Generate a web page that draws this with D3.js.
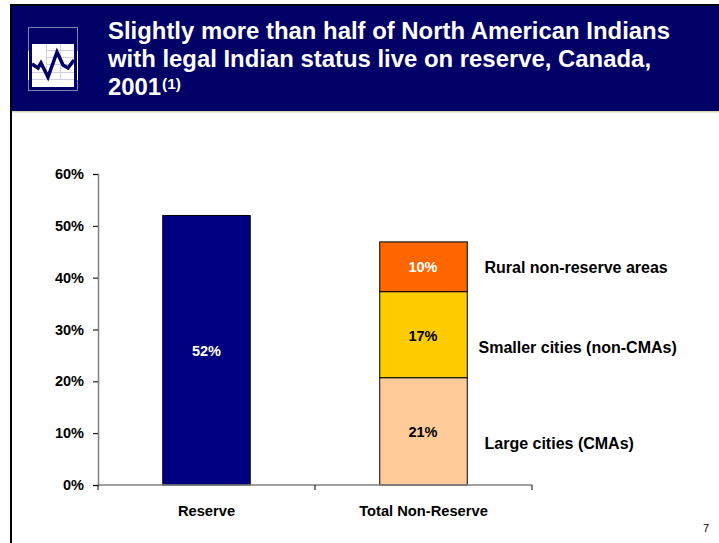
<!DOCTYPE html>
<html><head><meta charset="utf-8">
<script src="https://cdn.jsdelivr.net/npm/d3@7/dist/d3.min.js"></script>
<style>html,body{margin:0;padding:0;background:#fff}svg{display:block}text{font-family:"Liberation Sans",Arial,sans-serif}</style>
</head><body><div id="c"></div>
<script>
const categories = ["Reserve", "Total Non-Reserve"];
const tickValues = [0, 10, 20, 30, 40, 50, 60];
const reserveValues = [52];
const nonReserveValues = [20.7, 16.6, 9.6];
const nonReserveLabels = ["21%", "17%", "10%"];
const nonReserveNames = ["Large cities (CMAs)", "Smaller cities (non-CMAs)", "Rural non-reserve areas"];
const nonReserveColors = ["#ffcc99", "#ffcc00", "#ff6600"];
const titleLines = ["Slightly more than half of North American Indians", "with legal Indian status live on reserve, Canada,", "2001"];

const svg = d3.select("#c").append("svg").attr("width", 719).attr("height", 543);
// frame + header
svg.append("rect").attr("x", 12).attr("y", 6).attr("width", 707).attr("height", 105).attr("fill", "#000066");
svg.append("rect").attr("x", 12).attr("y", 111).attr("width", 707).attr("height", 1.5).attr("fill", "#d8d8b0");
svg.append("rect").attr("x", 10).attr("y", 4).attr("width", 709).attr("height", 2).attr("fill", "#000");
svg.append("rect").attr("x", 10).attr("y", 4).attr("width", 2).attr("height", 539).attr("fill", "#000");

// icon
const icon = svg.append("g");
icon.append("rect").attr("x", 28.5).attr("y", 27.5).attr("width", 49).attr("height", 63).attr("fill", "none").attr("stroke", "#7f7fb2").attr("stroke-width", 1);
icon.append("rect").attr("x", 32).attr("y", 44).attr("width", 42).attr("height", 43).attr("fill", "#fff");
icon.append("rect").attr("x", 28).attr("y", 51).attr("width", 1).attr("height", 29).attr("fill", "#fff");
icon.append("rect").attr("x", 77).attr("y", 51).attr("width", 1).attr("height", 29).attr("fill", "#fff");
const iconGrid = d3.path();
[46, 60].forEach(gx => { iconGrid.moveTo(gx + .5, 44); iconGrid.lineTo(gx + .5, 80); });
[50, 57, 64].forEach(gy => { iconGrid.moveTo(46, gy + .5); iconGrid.lineTo(74, gy + .5); });
[72, 79].forEach(gy => { iconGrid.moveTo(32, gy + .5); iconGrid.lineTo(74, gy + .5); });
icon.append("path").attr("d", iconGrid.toString()).attr("stroke", "#d0d0e4").attr("stroke-width", 1).attr("fill", "none");
icon.append("polyline").attr("points", "32,64 38,68 41,63 48,77 57,52 63,65 68,68 74,60").attr("fill", "none").attr("stroke", "#000066").attr("stroke-width", 3.5);

// title
const title = svg.append("g").attr("fill", "#fff").attr("font-weight", "bold").attr("font-size", 23.9);
titleLines.forEach((t, i) => title.append("text").attr("x", 108).attr("y", 38.5 + i * 28.2).text(t));
title.append("text").attr("x", 162).attr("y", 89).attr("font-size", 15.5).text("(1)");

// scales
const x = d3.scaleBand().domain(categories).range([98, 532]).paddingInner(0).paddingOuter(0);
const y = d3.scaleLinear().domain([0, 60]).range([485, 174]);
const barW = 87.5;

// bars
const chart = svg.append("g");
const cx = c => x(c) + x.bandwidth() / 2;
chart.append("rect").attr("x", cx(categories[0]) - barW / 2).attr("y", y(reserveValues[0])).attr("width", barW)
  .attr("height", y(0) - y(reserveValues[0])).attr("fill", "#000080").attr("stroke", "#000").attr("stroke-width", 1);
chart.append("text").attr("x", cx(categories[0])).attr("y", y(reserveValues[0] / 2) + 6).attr("text-anchor", "middle")
  .attr("font-size", 14.5).attr("font-weight", "bold").attr("fill", "#fff").text("52%");

const cum = d3.cumsum(nonReserveValues);
nonReserveValues.forEach((v, i) => {
  const base = i ? cum[i - 1] : 0;
  chart.append("rect").attr("x", cx(categories[1]) - barW / 2).attr("y", y(base + v)).attr("width", barW)
    .attr("height", y(base) - y(base + v)).attr("fill", nonReserveColors[i]).attr("stroke", "#000").attr("stroke-width", 1);
});
const valueLabelY = [436.5, 340.5, 272];
const valueLabelFill = ["#000", "#000", "#fff"];
nonReserveLabels.forEach((t, i) => chart.append("text").attr("x", cx(categories[1]) - 0.5).attr("y", valueLabelY[i])
  .attr("text-anchor", "middle").attr("font-size", 14.5).attr("font-weight", "bold").attr("fill", valueLabelFill[i]).text(t));

const nameX = [484.5, 478.5, 484.5], nameY = [449, 353, 273];
nonReserveNames.forEach((t, i) => svg.append("text").attr("x", nameX[i]).attr("y", nameY[i])
  .attr("font-size", 16).attr("font-weight", "bold").attr("fill", "#000").text(t));

// axes
const yAxis = d3.axisLeft(y).tickValues(tickValues).tickFormat(d => d + "%").tickSize(5).tickPadding(9);
const gy = svg.append("g").attr("transform", "translate(98,0)").call(yAxis);
gy.select(".domain").attr("stroke", "#808080").attr("stroke-width", 1.5);
gy.selectAll(".tick line").attr("stroke", "#000");
gy.selectAll("text").attr("font-size", 14.5).attr("font-weight", "bold").attr("fill", "#000").attr("font-family", '"Liberation Sans",Arial,sans-serif');

const xAxisLine = svg.append("g");
xAxisLine.append("line").attr("x1", 98).attr("x2", 532).attr("y1", y(0)).attr("y2", y(0)).attr("stroke", "#808080").attr("stroke-width", 1.5);
[0, 1, 2].forEach(i => xAxisLine.append("line").attr("x1", 98 + i * x.bandwidth()).attr("x2", 98 + i * x.bandwidth())
  .attr("y1", y(0)).attr("y2", y(0) + 5).attr("stroke", "#000"));
categories.forEach(c => svg.append("text").attr("x", cx(c)).attr("y", 516).attr("text-anchor", "middle")
  .attr("font-size", 14.7).attr("font-weight", "bold").attr("fill", "#000").text(c));

svg.append("text").attr("x", 703).attr("y", 532).attr("font-size", 11).attr("fill", "#000").text("7");
</script></body></html>
